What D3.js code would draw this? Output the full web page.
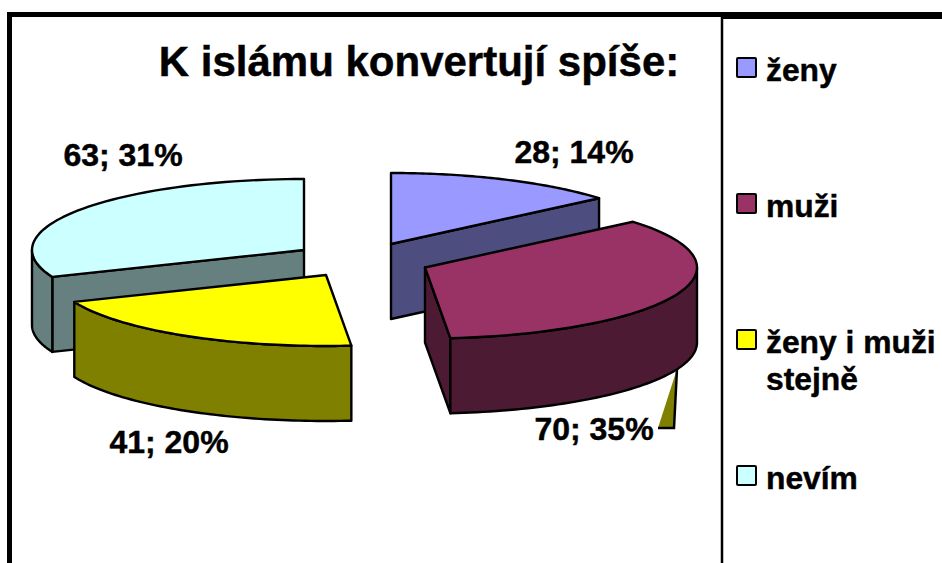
<!DOCTYPE html>
<html><head><meta charset="utf-8">
<script src="https://cdn.jsdelivr.net/npm/d3@7"></script>
<style>html,body{margin:0;background:#fff}svg{display:block}text{font-family:"Liberation Sans",Arial,sans-serif;font-weight:bold;fill:#000;stroke:#000;stroke-width:.45px}</style>
</head><body><svg id="c" width="942" height="563"></svg>
<script>
const title = "K islámu konvertují spíše:";
const categories = ["ženy", "muži", "ženy i muži stejně", "nevím"];
const values = [28, 70, 41, 63];
const percents = [14, 35, 20, 31];
const topColors = ["#9999FF", "#993366", "#FFFF00", "#CCFFFF"];
const sideColors = ["#4D4D80", "#4D1A33", "#808000", "#668080"];
const legendLines = [["ženy"], ["muži"], ["ženy i muži", "stejně"], ["nevím"]];

const W = 942, H = 563, RX = 272, RY = 71, DEPTH = 75;
const centers = [[391, 244], [425, 267.5], [326, 275], [304, 250]];
const labelPos = [[574, 163], [594, 440], [169, 453], [123, 166]];
const legendRows = [70, 206, 342, 478];
const drawOrder = [3, 2, 0, 1];

const svg = d3.select("#c");
const pie = d3.pie().sort(null).value(d => d);
const arcs = pie(values);
const line = d3.line();
const pt = (c, a, dz = 0) => [c[0] + RX * Math.sin(a), c[1] - RY * Math.cos(a) + dz];
const sample = (a0, a1) => d3.range(0, 61).map(i => a0 + (a1 - a0) * i / 60);
const TAU = 2 * Math.PI;

// frame
svg.append("path").attr("d", `M9.5 ${H}V14.5H722`).attr("fill", "none").attr("stroke", "#000").attr("stroke-width", 5);
svg.append("rect").attr("x", 721).attr("y", 12).attr("width", W - 721).attr("height", 7).attr("fill", "#000");
svg.append("line").attr("x1", 722).attr("x2", 722).attr("y1", 14).attr("y2", H).attr("stroke", "#000").attr("stroke-width", 2.5);

const g = svg.append("g").attr("stroke", "#000").attr("stroke-width", 2.4).attr("stroke-linejoin", "round");
drawOrder.forEach(i => {
  const d = arcs[i], c = centers[i], a0 = d.startAngle, a1 = d.endAngle;
  const poly = (pts, fill) => g.append("path").attr("d", line(pts) + "Z").attr("fill", fill);
  const radialFace = a => poly([c, pt(c, a), pt(c, a, DEPTH), [c[0], c[1] + DEPTH]], sideColors[i]);
  if (a0 > Math.PI && a0 < TAU) radialFace(a0);
  if (a1 > 0 && a1 < Math.PI) radialFace(a1);
  const w0 = Math.max(a0, Math.PI / 2), w1 = Math.min(a1, 1.5 * Math.PI);
  if (w1 > w0) {
    const s = sample(w0, w1);
    poly(s.map(a => pt(c, a)).concat(s.slice().reverse().map(a => pt(c, a, DEPTH))), sideColors[i]);
  }
  poly([c].concat(sample(a0, a1).map(a => pt(c, a))), topColors[i]);
});

// leader for the second slice label
svg.append("path").attr("d", line([[677, 369], [658, 428], [674, 428]]) + "Z").attr("fill", sideColors[2]);
svg.append("path").attr("d", line([[677, 369], [674, 428], [658, 428]])).attr("fill", "none").attr("stroke", "#000").attr("stroke-width", 2.5);

svg.append("text").attr("x", 419).attr("y", 76).attr("text-anchor", "middle").attr("font-size", 42).text(title);

svg.selectAll(".lab").data(values).join("text").attr("class", "lab")
  .attr("x", (d, i) => labelPos[i][0]).attr("y", (d, i) => labelPos[i][1])
  .attr("text-anchor", "middle").attr("font-size", 32)
  .text((d, i) => `${d}; ${percents[i]}%`);

const lg = svg.selectAll(".lg").data(categories).join("g").attr("class", "lg")
  .attr("transform", (d, i) => `translate(737,${legendRows[i]})`);
lg.append("rect").attr("y", -12).attr("width", 19).attr("height", 19)
  .attr("fill", (d, i) => topColors[i]).attr("stroke", "#000").attr("stroke-width", 2).attr("rx", 1);
lg.each(function (d, i) {
  d3.select(this).selectAll("text").data(legendLines[i]).join("text")
    .attr("x", 29).attr("y", (t, j) => 10.5 + j * 37).attr("font-size", 31.8).text(t => t);
});
</script></body></html>
